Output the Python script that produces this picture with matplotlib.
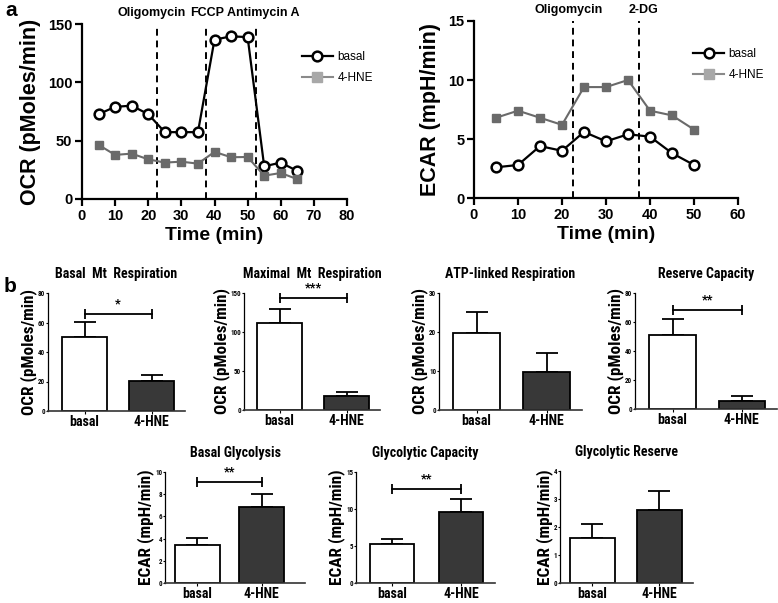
import matplotlib
matplotlib.use("Agg")
import matplotlib.pyplot as plt
from matplotlib.lines import Line2D
import matplotlib.transforms as mtransforms
import matplotlib.font_manager as fm

# ---------------- data ----------------
time_ocr = [5, 10, 15, 20, 25, 30, 35, 40, 45, 50, 55, 60, 65]
ocr_basal = [72.7, 79, 80, 72.7, 57.3, 57.3, 57.3, 136.6, 139.4, 138.8, 28, 31.2, 24]
ocr_hne = [46.4, 37.8, 38.9, 34, 31.2, 32, 30.3, 40.4, 35.8, 36, 20, 22.3, 17]
ocr_injections = [22.5, 37.5, 52.5]
ocr_injection_labels = ["Oligomycin", "FCCP", "Antimycin A"]

time_ecar = [5, 10, 15, 20, 25, 30, 35, 40, 45, 50]
ecar_basal = [2.6, 2.8, 4.4, 4.0, 5.6, 4.8, 5.4, 5.2, 3.8, 2.8]
ecar_hne = [6.8, 7.4, 6.8, 6.2, 9.4, 9.4, 10.0, 7.4, 7.0, 5.8]
ecar_injections = [22.5, 37.5]
ecar_injection_labels = ["Oligomycin", "2-DG"]

groups = ["basal", "4-HNE"]
bar_titles = ["Basal  Mt  Respiration", "Maximal  Mt  Respiration", "ATP-linked Respiration",
              "Reserve Capacity", "Basal Glycolysis", "Glycolytic Capacity", "Glycolytic Reserve"]
bar_ylabels = ["OCR (pMoles/min)"] * 4 + ["ECAR (mpH/min)"] * 3
bar_basal = [50.5, 111, 19.8, 51.2, 3.45, 5.3, 1.6]
bar_basal_err = [10, 19, 5.4, 10.8, 0.6, 0.7, 0.5]
bar_hne = [20.3, 18, 9.7, 5.3, 6.85, 9.6, 2.6]
bar_hne_err = [4.2, 4.5, 4.8, 3.7, 1.2, 1.7, 0.7]
bar_sig = ["*", "***", "", "**", "**", "**", ""]
bar_sig_y = [65.7, 143.6, None, 68.5, 9.1, 12.7, None]
bar_ymax = [80, 150, 30, 80, 10, 15, 4]
bar_ystep = [20, 50, 10, 20, 2, 5, 1]

# ---------------- fonts ----------------
TOP = ["Liberation Sans", "DejaVu Sans"]
_fonts = fm.fontManager.ttflist
_names = {f.name for f in _fonts}
NAR = None
NAR_STRETCH = "normal"
for cand in ["Liberation Sans Narrow", "DejaVu Sans Condensed", "Roboto Condensed",
             "Open Sans Condensed", "Noto Sans Condensed"]:
    if cand in _names:
        NAR = [cand, "DejaVu Sans"]
        break
if NAR is None:
    for f in _fonts:
        if f.name in ("DejaVu Sans", "Noto Sans", "Roboto", "Open Sans", "Inter") and \
                str(f.stretch) in ("condensed", "semi-condensed", "extra-condensed"):
            NAR = [f.name, "DejaVu Sans"]
            NAR_STRETCH = "condensed"
            break
if NAR is None:
    NAR = ["Liberation Sans", "DejaVu Sans"]
    SZ_TITLE, SZ_XT, SZ_YL, SZ_SIG = 8.6, 8.6, 9.0, 8.5
else:
    SZ_TITLE, SZ_XT, SZ_YL, SZ_SIG = 10.0, 10.0, 12.3, 9.0

# ---------------- layout ----------------
W, H = 778, 603
fig = plt.figure(figsize=(W / 100, H / 100), dpi=100)


def px_axes(l, t, r, b):
    return fig.add_axes([l / W, 1 - b / H, (r - l) / W, (b - t) / H])


def style_top(ax):
    for s in ["top", "right"]:
        ax.spines[s].set_visible(False)
    for s in ["left", "bottom"]:
        ax.spines[s].set_linewidth(1.6)
    ax.tick_params(width=1.6, length=5, labelsize=10.5, pad=2)
    for lab in ax.get_xticklabels() + ax.get_yticklabels():
        lab.set_family(TOP)
        lab.set_fontweight("bold")


def time_panel(ax, t, basal, hne, inj, inj_labels, xmax, xstep, ymax, ystep, ylabel, label_dx):
    ax.plot(t, basal, color="black", lw=1.6, marker="o", ms=7, mfc="white",
            mec="black", mew=1.8, zorder=3)
    ax.plot(t, hne, color="#6a6a6a", lw=1.5, marker="s", ms=5.8, mfc="#6a6a6a",
            mec="#6a6a6a", zorder=3)
    for x in inj:
        ax.axvline(x, color="black", lw=1.4, ls=(0, (3.5, 2.5)), zorder=2)
    trans = mtransforms.blended_transform_factory(ax.transData, ax.transAxes)
    for x, lab, dx in zip(inj, inj_labels, label_dx):
        ax.text(x + dx, 1.03, lab, transform=trans, ha="center", va="bottom",
                fontsize=9, fontweight="bold", family=TOP)
    ax.set_xlim(0, xmax)
    ax.set_ylim(0, ymax)
    ax.set_xticks(range(0, xmax + 1, xstep))
    ax.set_yticks(range(0, ymax + 1, ystep))
    ax.set_xlabel("Time (min)", fontsize=14, fontweight="bold", family=TOP, labelpad=3)
    ax.set_ylabel(ylabel, fontsize=15.5, fontweight="bold", family=TOP, labelpad=5)
    style_top(ax)
    handles = [Line2D([], [], color="black", lw=1.6, marker="o", ms=7, mfc="white",
                      mec="black", mew=1.8),
               Line2D([], [], color="#8a8a8a", lw=1.5, marker="s", ms=7, mfc="#a8a8a8",
                      mec="#a8a8a8")]
    ax.legend(handles, groups, loc="upper left", bbox_to_anchor=(0.79, 0.905),
              frameon=False, handlelength=2.6, handletextpad=0.4,
              labelspacing=0.75, prop={"family": TOP, "size": 8.5})


ax1 = px_axes(82, 24, 347, 199)
time_panel(ax1, time_ocr, ocr_basal, ocr_hne, ocr_injections, ocr_injection_labels,
           80, 10, 150, 50, "OCR (pMoles/min)", [-1.4, 0.2, 2.3])

ax2 = px_axes(474, 21, 738, 198)
time_panel(ax2, time_ecar, ecar_basal, ecar_hne, ecar_injections, ecar_injection_labels,
           60, 10, 15, 5, "ECAR (mpH/min)", [-0.9, 1.1])

fig.text(5 / W, 1 - 10 / H, "a", fontsize=15, fontweight="bold", family=TOP,
         ha="left", va="center")
fig.text(4 / W, 1 - 287 / H, "b", fontsize=15, fontweight="bold", family=TOP,
         ha="left", va="center")

# bar panel geometry: (left, top, right, bottom) px, xlim, bar width
bar_geo = [
    ((48, 293, 185, 411), (-0.545, 1.5), 0.67),
    ((244, 293, 380, 410), (-0.53, 1.5), 0.67),
    ((439, 293, 582, 410), (-0.536, 1.507), 0.67),
    ((635, 293, 777, 409), (-0.543, 1.51), 0.67),
    ((165, 472, 305, 583), (-0.5, 1.67), 0.70),
    ((356, 472, 495, 583), (-0.52, 1.49), 0.64),
    ((560, 471, 693, 583), (-0.485, 1.5), 0.67),
]

for i, (box, xl, bw) in enumerate(bar_geo):
    ax = px_axes(*box)
    vals = [bar_basal[i], bar_hne[i]]
    errs = [bar_basal_err[i], bar_hne_err[i]]
    xs = [0, 1]
    ax.errorbar(xs, vals, yerr=[[0, 0], errs], fmt="none", ecolor="black",
                elinewidth=1.3, capsize=8, capthick=1.3, zorder=1)
    ax.bar(xs, vals, width=bw, color=["white", "#383838"], edgecolor="black",
           linewidth=1.3, zorder=2)
    ax.set_xlim(*xl)
    ax.set_ylim(0, bar_ymax[i])
    ax.set_yticks(list(range(0, bar_ymax[i] + 1, bar_ystep[i])))
    ax.set_xticks(xs)
    ax.set_xticklabels(groups)
    for s in ["top", "right"]:
        ax.spines[s].set_visible(False)
    ax.spines["left"].set_linewidth(0.9)
    ax.spines["bottom"].set_linewidth(1.2)
    ax.spines["bottom"].set_color("#333333")
    ax.tick_params(axis="y", length=1.5, width=0.8, labelsize=5, pad=0.5)
    ax.tick_params(axis="x", length=2.5, width=0.8, labelsize=SZ_XT, pad=0.5)
    for lab in ax.get_yticklabels():
        lab.set_family(NAR)
        lab.set_fontweight("bold")
    for lab in ax.get_xticklabels():
        lab.set_family(NAR)
        lab.set_fontweight("bold")
        lab.set_fontstretch(NAR_STRETCH)
    ax.set_ylabel(bar_ylabels[i], fontsize=SZ_YL, fontweight="bold", family=NAR,
                  fontstretch=NAR_STRETCH, labelpad=0.5)
    ax.set_title(bar_titles[i], fontsize=SZ_TITLE, fontweight="bold", family=NAR,
                 fontstretch=NAR_STRETCH, pad=11)
    if bar_sig[i]:
        y = bar_sig_y[i]
        ax.plot(xs, [y, y], color="black", lw=1.3)
        ax.plot(xs, [y, y], color="black", lw=0, marker="|", ms=7, mew=1.3)
        ax.text(0.5, y + bar_ymax[i] * 0.03, bar_sig[i], ha="center", va="bottom",
                fontsize=SZ_SIG, fontweight="bold", family=NAR)

fig.savefig("out.png", dpi=100)
